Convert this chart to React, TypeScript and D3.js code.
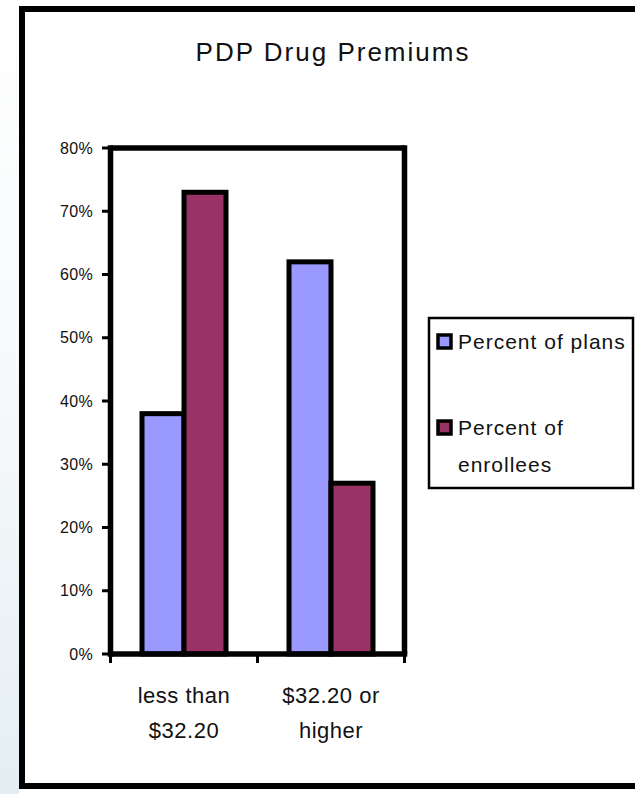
import React from "react";
import * as d3 from "d3";

const categories = ["less than|$32.20", "$32.20 or|higher"];
const seriesNames = ["Percent of plans", "Percent of enrollees"];
const seriesColors = ["#9999FF", "#993366"];
const percentOfPlans = [38, 62];
const percentOfEnrollees = [73, 27];
const yTicks = [0, 10, 20, 30, 40, 50, 60, 70, 80];
const title = "PDP Drug Premiums";

export default function App() {
  const W = 635, H = 794;
  const plotL = 110.5, plotR = 404.5, plotT = 148, plotB = 654;
  const sw = 5.5;

  const y = d3.scaleLinear().domain([0, 80]).range([plotB, plotT]);
  const x0 = d3.scaleBand<string>().domain(categories).range([plotL, plotR]).padding(0);
  const barW = x0.bandwidth() / 3.5;
  const x1 = d3.scaleBand<string>().domain(seriesNames).range([0, barW * 2]).padding(0);
  const series = [percentOfPlans, percentOfEnrollees];

  const font = "'Liberation Sans', Arial, sans-serif";
  const txt = "#111";

  return (
    <svg width={W} height={H} style={{ position: "absolute", left: 0, top: 0, background: "#fff" }}>
      <defs>
        <linearGradient id="bg" x1="0" y1="0" x2="0" y2="1">
          <stop offset="0" stopColor="#ffffff" />
          <stop offset="0.5" stopColor="#f6f9fb" />
          <stop offset="1" stopColor="#e4eef2" />
        </linearGradient>
      </defs>
      <rect x={0} y={0} width={19} height={H} fill="url(#bg)" />
      <rect x={22} y={9} width={640} height={777} fill="#fff" stroke="#000" strokeWidth={6} />

      <text x={333} y={61} textAnchor="middle" fontFamily={font} fontSize={26} fill={txt}
        style={{ letterSpacing: "2px" }}>{title}</text>

      {/* bars */}
      {categories.map((c, ci) =>
        seriesNames.map((s, si) => {
          const v = series[si][ci];
          const bx = (x0(c) as number) + (x0.bandwidth() - barW * 2) / 2 + (x1(s) as number);
          return (
            <rect key={c + s} x={bx} y={y(v)} width={barW} height={plotB - y(v)}
              fill={seriesColors[si]} stroke="#000" strokeWidth={5} />
          );
        })
      )}

      {/* plot frame */}
      <line x1={plotL} y1={plotT} x2={plotR} y2={plotT} stroke="#000" strokeWidth={sw} />
      <line x1={plotR} y1={plotT - sw / 2} x2={plotR} y2={plotB} stroke="#000" strokeWidth={sw} />
      <line x1={plotL} y1={plotT - sw / 2} x2={plotL} y2={plotB + sw / 2} stroke="#000" strokeWidth={sw} />
      <line x1={plotL} y1={plotB} x2={plotR + sw / 2} y2={plotB} stroke="#000" strokeWidth={sw} />

      {/* y ticks */}
      {yTicks.map((t) => (
        <g key={t}>
          <line x1={102} x2={plotL} y1={y(t)} y2={y(t)} stroke="#000" strokeWidth={3} />
          <text x={93} y={y(t)} dy="0.35em" textAnchor="end" fontFamily={font} fontSize={16} fill={txt}
            style={{ letterSpacing: "0.3px" }}>
            {t + "%"}
          </text>
        </g>
      ))}

      {/* x ticks */}
      {[...categories.map((c) => x0(c) as number), plotR].map((tx, i) => (
        <line key={i} x1={tx} x2={tx} y1={plotB} y2={663} stroke="#000" strokeWidth={3} />
      ))}
      {categories.map((c) => {
        const cx = (x0(c) as number) + x0.bandwidth() / 2;
        return c.split("|").map((ln, li) => (
          <text key={c + li} x={cx} y={703 + li * 35} textAnchor="middle" fontFamily={font} fontSize={22} fill={txt}
            style={{ letterSpacing: "0.5px" }}>
            {ln}
          </text>
        ));
      })}

      {/* legend */}
      <rect x={429} y={318} width={204} height={170} fill="#fff" stroke="#000" strokeWidth={2.5} />
      <rect x={438} y={335} width={13} height={13} fill={seriesColors[0]} stroke="#000" strokeWidth={3.5} />
      <text x={458} y={349} fontFamily={font} fontSize={21} fill={txt} style={{ letterSpacing: "1px" }}>{seriesNames[0]}</text>
      <rect x={438} y={421} width={13} height={13} fill={seriesColors[1]} stroke="#000" strokeWidth={3.5} />
      <text x={458} y={435} fontFamily={font} fontSize={21} fill={txt} style={{ letterSpacing: "1px" }}>Percent of</text>
      <text x={458} y={472} fontFamily={font} fontSize={21} fill={txt} style={{ letterSpacing: "1px" }}>enrollees</text>
    </svg>
  );
}
